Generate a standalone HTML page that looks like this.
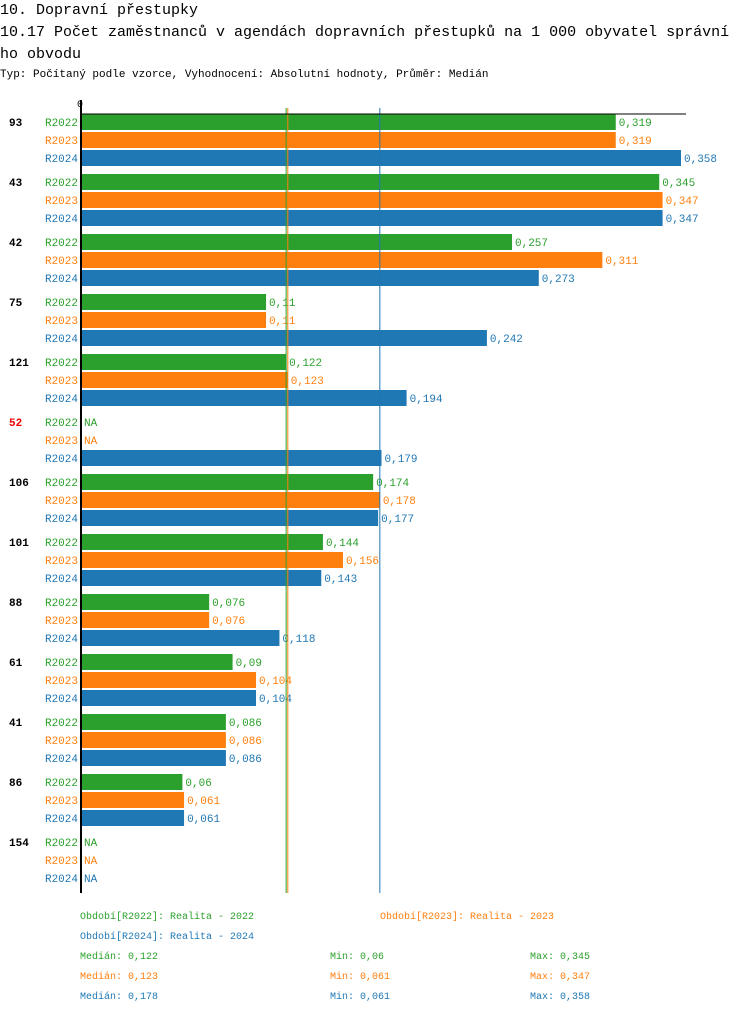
<!DOCTYPE html>
<html><head><meta charset="utf-8"><style>
body{margin:0;background:#fff;width:750px;height:1014px;overflow:hidden;font-family:"Liberation Mono",monospace}
svg text{font-family:"Liberation Mono",monospace}
</style></head><body>
<svg id="c" width="750" height="1014" xmlns="http://www.w3.org/2000/svg">
<text x="0" y="14" font-size="15" fill="#000">10. Dopravní přestupky</text>
<text x="0" y="36" font-size="15" fill="#000">10.17 Počet zaměstnanců v agendách dopravních přestupků na 1 000 obyvatel správní</text>
<text x="0" y="58" font-size="15" fill="#000">ho obvodu</text>
<text x="0" y="77" font-size="11" fill="#000">Typ: Počítaný podle vzorce, Vyhodnocení: Absolutní hodnoty, Průměr: Medián</text>
</svg>
<script>
const categories=["93","43","42","75","121","52","106","101","88","61","41","86","154"];
const catColors=["#000","#000","#000","#000","#000","#e00","#000","#000","#000","#000","#000","#000","#000"];
const series=["R2022","R2023","R2024"];
const v2022=[0.319,0.345,0.257,0.11,0.122,null,0.174,0.144,0.076,0.09,0.086,0.06,null];
const v2023=[0.319,0.347,0.311,0.11,0.123,null,0.178,0.156,0.076,0.104,0.086,0.061,null];
const v2024=[0.358,0.347,0.273,0.242,0.194,0.179,0.177,0.143,0.118,0.104,0.086,0.061,null];
const medians=[0.122,0.123,0.178];
const mins=[0.06,0.061,0.061];
const maxs=[0.345,0.347,0.358];
const colors=["#2ca02c","#ff7f0e","#1f77b4"];
const S=document.getElementById('c');const NS="http://www.w3.org/2000/svg";
const x0=82,scale=599/0.358;const X=v=>x0+v*scale;
const gy=i=>114+60*i;
function mk(t,a,txt){const e=document.createElementNS(NS,t);for(const k in a)e.setAttribute(k,a[k]);if(txt!=null)e.textContent=txt;S.appendChild(e);return e;}
const vals=[v2022,v2023,v2024];
categories.forEach((c,i)=>{
 const t=mk('text',{x:9,y:gy(i)+12,'font-size':11,'font-weight':'bold',fill:catColors[i]},c);
 
 
 series.forEach((s,j)=>{
  const y=gy(i)+18*j;const v=vals[j][i];
  const l=mk('text',{x:78,y:y+12,'font-size':11,fill:colors[j],'text-anchor':'end'},s);
  
  
  if(v==null){
   const n=mk('text',{x:84,y:y+12,'font-size':11,fill:colors[j]},'NA');
   
   
  }else{
   const r=mk('rect',{x:x0,y:y,width:X(v)-x0,height:16,fill:colors[j]});
   
   
   const vl=mk('text',{x:X(v)+3,y:y+12,'font-size':11,fill:colors[j]},String(v).replace('.',','));
   
   
  }
 });
});
medians.forEach((m,j)=>{const l=mk('line',{x1:X(m),x2:X(m),y1:108,y2:893,stroke:colors[j],'stroke-width':1});
 
 });
const ax=mk('line',{x1:81,x2:81,y1:100,y2:893,stroke:'#000','stroke-width':2});


const hx=mk('line',{x1:80,x2:686,y1:114,y2:114,stroke:'#000','stroke-width':1});


const z=mk('text',{x:80,y:107,'font-size':10,'text-anchor':'middle',fill:'#000'},'0');


const leg=[[80,919,"Období[R2022]: Realita - 2022",0],[380,919,"Období[R2023]: Realita - 2023",1],[80,939,"Období[R2024]: Realita - 2024",2]];
leg.forEach(a=>{const e=mk('text',{x:a[0],y:a[1],'font-size':10,fill:colors[a[3]]},a[2]);
 
 });
[0,1,2].forEach(j=>{const y=959+20*j;
 const a=mk('text',{x:80,y:y,'font-size':10,fill:colors[j]},'Medián: '+String(medians[j]).replace('.',','));
 
 
 const b=mk('text',{x:330,y:y,'font-size':10,fill:colors[j]},'Min: '+String(mins[j]).replace('.',','));
 
 
 const c=mk('text',{x:530,y:y,'font-size':10,fill:colors[j]},'Max: '+String(maxs[j]).replace('.',','));
 
 
});
</script>
</body></html>
